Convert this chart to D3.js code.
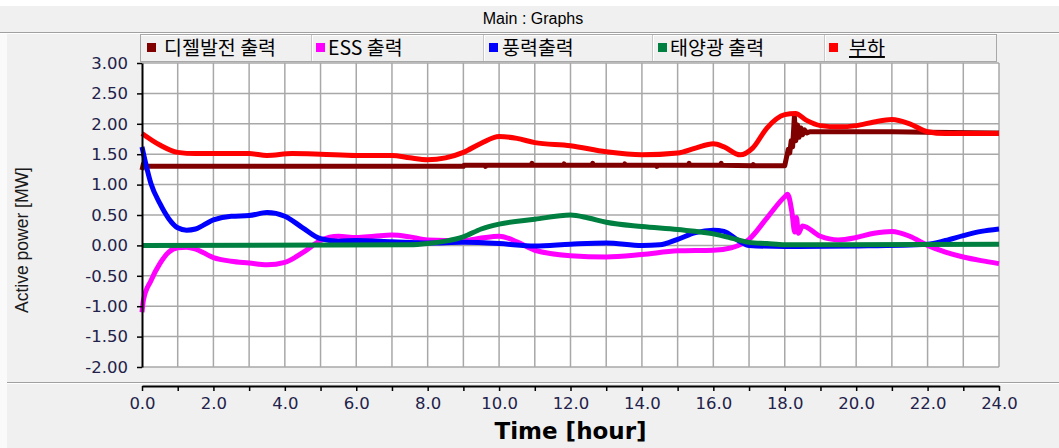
<!DOCTYPE html>
<html><head><meta charset="utf-8">
<script src="https://cdn.jsdelivr.net/npm/d3@7"></script>
<style>
body{margin:0;background:#f0f0f0;}
svg{display:block;}
</style></head>
<body>
<svg id="chart" width="1059" height="448"></svg>
<script>
// ---------- data ----------
const seriesNames = ["디젤발전 출력", "ESS 출력", "풍력출력", "태양광 출력", "부하"];
const seriesColors = ["#800000", "#ff00ff", "#0000ff", "#008040", "#ff0000"];
const xTickValues = d3.range(0, 24.001, 2);
const yTickValues = d3.range(-2, 3.001, 0.5);

const diesel = [[0,1.24],[0.04,1.34],[0.08,1.30],[9,1.30],[9.02,1.32],
  [9.6,1.32],[9.62,1.30],[9.64,1.32],[10.9,1.32],[10.92,1.35],[10.94,1.32],[11.8,1.32],[11.82,1.34],[11.84,1.32],
  [12.6,1.32],[12.62,1.35],[12.64,1.32],[13.5,1.32],[13.52,1.34],[13.54,1.32],[14.4,1.32],[14.42,1.30],[14.44,1.32],
  [15.3,1.32],[15.32,1.35],[15.34,1.32],[16.2,1.32],[16.22,1.35],[16.24,1.32],[17.1,1.31],[17.12,1.33],[17.14,1.31],
  [18.0,1.31],[18.05,1.45],[18.1,1.58],[18.14,1.52],[18.18,1.72],[18.22,1.62],[18.27,2.12],[18.31,1.72],[18.36,1.98],
  [18.4,1.78],[18.45,1.93],[18.5,1.82],[18.55,1.90],[18.62,1.85],[18.7,1.87],[21,1.87],[22,1.86],[24,1.85]];
const ess = [[0,-1.10],[0.04,-0.90],[0.25,-0.58],[0.5,-0.30],[0.75,-0.11],[1,-0.04],[1.25,-0.03],[1.5,-0.06],
  [2,-0.20],[2.5,-0.26],[3,-0.29],[3.5,-0.32],[4,-0.28],[4.5,-0.12],[5,0.08],[5.5,0.15],[6,0.13],[6.5,0.15],
  [7,0.17],[7.5,0.14],[8,0.09],[9,0.08],[9.5,0.12],[10,0.15],[10.5,0.06],[11,-0.08],[12,-0.17],[13,-0.19],
  [14,-0.15],[15,-0.09],[16,-0.08],[16.5,-0.04],[17,0.10],[17.5,0.45],[18,0.80],[18.08,0.84],[18.2,0.55],
  [18.28,0.22],[18.33,0.46],[18.38,0.20],[18.5,0.32],[19,0.15],[19.5,0.09],[20,0.13],[20.5,0.20],[21,0.23],
  [21.5,0.15],[22,0.00],[22.5,-0.11],[23,-0.19],[23.5,-0.25],[24,-0.30]];
const wind = [[0,1.62],[0.25,1.02],[0.5,0.69],[0.75,0.44],[1,0.29],[1.25,0.25],[1.5,0.27],[2,0.42],[2.5,0.48],
  [3,0.49],[3.5,0.54],[4,0.48],[4.5,0.29],[5,0.11],[5.5,0.07],[6,0.08],[7,0.06],[8,0.04],[9,0.05],[10,0.03],
  [11,-0.01],[12,0.02],[13,0.04],[14,0.00],[14.5,0.01],[15,0.10],[15.5,0.21],[16,0.25],[16.3,0.23],[16.7,0.08],
  [17,0.00],[18,-0.02],[20,-0.01],[22,0.02],[22.5,0.08],[23,0.16],[23.5,0.23],[24,0.27]];
const solar = [[0,0.00],[7.5,0.01],[8,0.03],[8.5,0.07],[9,0.14],[9.5,0.27],[10,0.35],[11,0.43],[12,0.50],
  [12.5,0.45],[13,0.38],[14,0.31],[15,0.26],[16,0.19],[16.5,0.12],[17,0.05],[17.5,0.03],[18,0.01],[24,0.02]];
const load = [[0,1.84],[0.5,1.65],[1,1.53],[1.5,1.51],[3,1.51],[3.5,1.48],[4.2,1.51],[5,1.50],[6,1.48],[7,1.48],
  [7.5,1.44],[8,1.41],[8.5,1.44],[9,1.53],[9.5,1.68],[10,1.79],[10.5,1.76],[11,1.69],[12,1.64],[13,1.54],
  [14,1.49],[15,1.52],[15.5,1.60],[16,1.67],[16.3,1.62],[16.75,1.49],[17.1,1.60],[17.5,1.93],[18,2.15],[18.3,2.17],
  [18.6,2.06],[19,1.97],[19.5,1.95],[20,1.97],[20.5,2.03],[21,2.07],[21.5,2.00],[22,1.87],[22.5,1.84],[24,1.84]];
const seriesData = [diesel, ess, wind, solar, load];

// ---------- layout ----------
const W = 1059, H = 448;
const L = 142, R = 999, T = 63, B = 367;
const svg = d3.select("#chart");

svg.append("rect").attr("x",0).attr("y",0).attr("width",W).attr("height",H).attr("fill","#f0f0f0");
svg.append("rect").attr("x",0).attr("y",0).attr("width",W).attr("height",6).attr("fill","#ffffff");
svg.append("rect").attr("x",0).attr("y",34).attr("width",7).attr("height",H-34).attr("fill","#fafafa");

// title bar
svg.append("text").attr("x",533).attr("y",24).attr("text-anchor","middle")
  .attr("font-family","Liberation Sans, Arial, sans-serif").attr("font-size",16).attr("fill","#000")
  .text("Main : Graphs");
svg.append("line").attr("x1",0).attr("x2",W).attr("y1",32.5).attr("y2",32.5).attr("stroke","#a0a0a0");
svg.append("line").attr("x1",0).attr("x2",W).attr("y1",33.5).attr("y2",33.5).attr("stroke","#ffffff");

// legend
const cellEdges = [140, 311, 483, 652, 824, 997];
const markerX = [147, 316, 489, 658, 829];
const textX = [164, 328, 502, 670, 849];
const lg = svg.append("g");
lg.append("rect").attr("x",140.5).attr("y",34.5).attr("width",856).attr("height",27).attr("fill","#f0f0f0")
  .attr("stroke","#a8a8a8");
lg.append("line").attr("x1",141).attr("x2",996).attr("y1",35.5).attr("y2",35.5).attr("stroke","#ffffff");
cellEdges.slice(1,5).forEach(x=>{
  lg.append("line").attr("x1",x+0.5).attr("x2",x+0.5).attr("y1",35).attr("y2",61).attr("stroke","#c8c8c8");
  lg.append("line").attr("x1",x+1.5).attr("x2",x+1.5).attr("y1",35).attr("y2",61).attr("stroke","#ffffff");
});
seriesNames.forEach((n,i)=>{
  lg.append("rect").attr("x",markerX[i]).attr("y",43).attr("width",9).attr("height",9).attr("fill",seriesColors[i]);
  const t = lg.append("text").attr("x",textX[i]).attr("y",55)
    .attr("font-family","Noto Sans CJK KR, sans-serif").attr("font-size",19.5).attr("fill","#000").text(n);
  if (i===4) t.attr("text-decoration","underline");
});

// scales
const x = d3.scaleLinear().domain([0,24]).range([L,R]);
const y = d3.scaleLinear().domain([-2,3]).range([B,T]);

// plot background
svg.append("rect").attr("x",L).attr("y",T).attr("width",R-L).attr("height",B-T).attr("fill","#ffffff");

// grid
const grid = svg.append("g").attr("stroke","#a8a8a8").attr("stroke-width",1.5);
d3.range(1,25).forEach(h=>{
  grid.append("line").attr("x1",x(h)).attr("x2",x(h)).attr("y1",T).attr("y2",B);
});
yTickValues.forEach(v=>{
  grid.append("line").attr("x1",L).attr("x2",R).attr("y1",y(v)).attr("y2",y(v));
});

// series
const line = d3.line().x(d=>x(d[0])).y(d=>y(d[1]));
const plot = svg.append("g");
seriesData.forEach((data,i)=>{
  const curve = (i===0) ? d3.curveLinear : d3.curveMonotoneX;
  plot.append("path").datum(data).attr("d", line.curve(curve))
    .attr("fill","none").attr("stroke",seriesColors[i]).attr("stroke-width",5)
    .attr("stroke-linejoin","round");
});

// y axis
const fmt = v => (v<0?"-":"") + Math.abs(v).toFixed(2);
const yAxis = svg.append("g").attr("transform",`translate(${L},0)`)
  .call(d3.axisLeft(y).tickValues(yTickValues).tickSize(5).tickSizeOuter(0).tickFormat(fmt).tickPadding(9));
yAxis.select(".domain").attr("stroke","#000").attr("stroke-width",2);
yAxis.selectAll(".tick line").attr("stroke","#000").attr("stroke-width",1.5);
yAxis.selectAll(".tick text").attr("font-family","DejaVu Sans, sans-serif").attr("font-size",16.5).attr("fill","#22224a");

// y title
svg.append("text").attr("transform","translate(28,240) rotate(-90)").attr("text-anchor","middle")
  .attr("font-family","Liberation Sans, Arial, sans-serif").attr("font-size",17.5).attr("fill","#1a1a1a")
  .text("Active power [MW]");

// separator
svg.append("line").attr("x1",7).attr("x2",W).attr("y1",382.5).attr("y2",382.5).attr("stroke","#a0a0a0");
svg.append("line").attr("x1",7).attr("x2",W).attr("y1",383.5).attr("y2",383.5).attr("stroke","#ffffff");

// x axis
const xAxis = svg.append("g").attr("transform","translate(0,386)")
  .call(d3.axisBottom(x).tickValues(d3.range(0,24.001,1)).tickSize(5).tickSizeOuter(0)
    .tickFormat(d => (d%2===0) ? d.toFixed(1) : "").tickPadding(6));
xAxis.select(".domain").attr("stroke","#000").attr("stroke-width",2);
xAxis.selectAll(".tick line").attr("stroke","#000").attr("stroke-width",1.5);
xAxis.selectAll(".tick text").attr("font-family","DejaVu Sans, sans-serif").attr("font-size",16.5).attr("fill","#22224a");

svg.append("text").attr("x",(L+R)/2).attr("y",439).attr("text-anchor","middle")
  .attr("font-family","DejaVu Sans, sans-serif").attr("font-weight","bold").attr("font-size",23).attr("fill","#000")
  .text("Time [hour]");
</script>
</body></html>
